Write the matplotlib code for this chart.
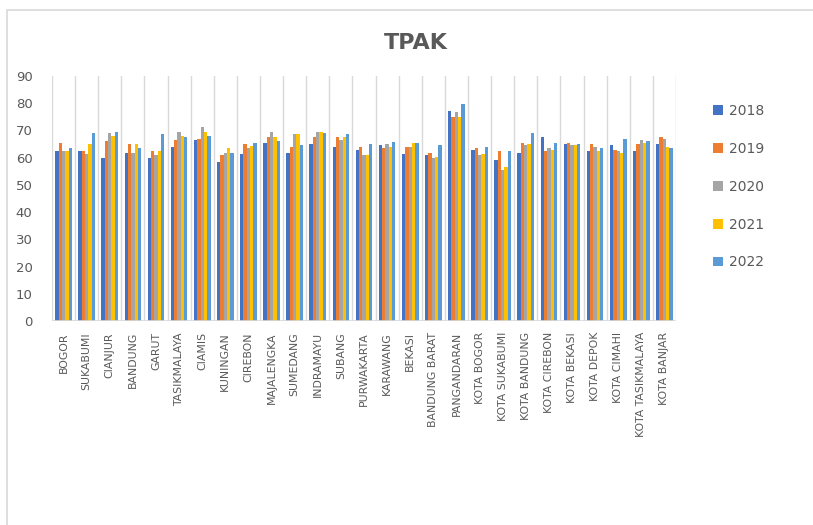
"""TPAK per kabupaten/kota, 2018-2022, drawn as a clustered column chart."""

import matplotlib

matplotlib.use("Agg")
import matplotlib.pyplot as plt
import numpy as np
from matplotlib.patches import Rectangle

REGIONS = [
    "BOGOR", "SUKABUMI", "CIANJUR", "BANDUNG", "GARUT", "TASIKMALAYA",
    "CIAMIS", "KUNINGAN", "CIREBON", "MAJALENGKA", "SUMEDANG", "INDRAMAYU",
    "SUBANG", "PURWAKARTA", "KARAWANG", "BEKASI", "BANDUNG BARAT",
    "PANGANDARAN", "KOTA BOGOR", "KOTA SUKABUMI", "KOTA BANDUNG",
    "KOTA CIREBON", "KOTA BEKASI", "KOTA DEPOK", "KOTA CIMAHI",
    "KOTA TASIKMALAYA", "KOTA BANJAR",
]

YEARS = ["2018", "2019", "2020", "2021", "2022"]

TPAK_2018 = [62.5, 62.5, 59.8, 61.9, 59.8, 64.0, 66.5, 58.3, 61.4, 65.4, 61.9, 65.0,
             64.0, 62.9, 64.5, 61.3, 60.8, 77.3, 62.9, 59.3, 61.9, 67.5, 65.0, 62.4,
             64.5, 62.4, 65.0]
TPAK_2019 = [65.4, 62.5, 66.0, 65.0, 62.5, 66.5, 67.0, 60.8, 65.0, 67.5, 64.0, 67.5,
             67.5, 64.0, 63.5, 64.0, 61.9, 74.8, 63.4, 62.4, 65.4, 62.4, 65.4, 65.0,
             62.9, 65.0, 67.5]
TPAK_2020 = [62.5, 61.3, 69.1, 61.9, 60.8, 69.6, 71.2, 61.9, 63.5, 69.6, 68.6, 69.6,
             66.5, 60.8, 65.0, 64.0, 59.7, 76.8, 60.8, 55.6, 64.5, 63.5, 64.5, 64.0,
             62.4, 66.5, 67.0]
TPAK_2021 = [62.5, 65.0, 68.0, 65.0, 62.5, 68.0, 69.6, 63.5, 64.3, 67.5, 68.6, 69.6,
             67.5, 60.8, 64.0, 65.4, 60.2, 74.8, 61.3, 56.6, 65.0, 62.9, 64.5, 62.4,
             61.8, 65.4, 64.0]
TPAK_2022 = [63.5, 69.1, 69.6, 63.5, 68.6, 67.5, 68.0, 61.9, 65.4, 66.0, 64.5, 69.1,
             68.6, 65.0, 65.6, 65.4, 64.5, 79.9, 64.0, 62.4, 69.1, 65.4, 65.0, 63.5,
             67.0, 66.0, 63.5]

SERIES = [TPAK_2018, TPAK_2019, TPAK_2020, TPAK_2021, TPAK_2022]
COLOURS = ["#4472C4", "#ED7D31", "#A5A5A5", "#FFC000", "#5B9BD5"]
TEXT = "#595959"
GRID = "#D9D9D9"

fig = plt.figure(figsize=(8.13, 5.25), dpi=100)
ax = fig.add_axes([0.064, 0.3886, 0.7675, 0.4666])

# chart area outline
fig.patches.append(
    Rectangle((0.008, -0.05), 1.2, 1.031, transform=fig.transFigure,
              fill=False, edgecolor=GRID, linewidth=1.2, zorder=0)
)

x = np.arange(len(REGIONS))
group = 0.72
width = group / len(SERIES)
for i, (vals, col, yr) in enumerate(zip(SERIES, COLOURS, YEARS)):
    offs = -group / 2 + width * (i + 0.5)
    ax.bar(x + offs, vals, width=width, color=col, label=yr, zorder=2)

ax.set_xlim(-0.5, len(REGIONS) - 0.5)
ax.set_ylim(0, 90)
ax.set_yticks(range(0, 91, 10))

# vertical separators between categories
for b in np.arange(-0.5, len(REGIONS), 1.0):
    ax.axvline(b, color=GRID, linewidth=1.0, zorder=1)
ax.axhline(0, color=GRID, linewidth=1.2, zorder=3)

for s in ax.spines.values():
    s.set_visible(False)

ax.set_xticks(x)
ax.set_xticklabels(REGIONS, rotation=90, fontsize=7.8, color=TEXT,
                   va="top", ha="center")
ax.tick_params(axis="both", length=0)
ax.tick_params(axis="x", pad=8)
ax.tick_params(axis="y", labelsize=9.5, labelcolor=TEXT, pad=14)

fig.text(0.512, 0.918, "TPAK", ha="center", va="center",
         fontsize=16, fontweight="bold", color=TEXT)

leg = fig.legend(loc="upper left", bbox_to_anchor=(0.862, 0.826),
                 frameon=False, fontsize=10, labelcolor=TEXT,
                 handlelength=0.7, handleheight=0.7, handletextpad=0.4,
                 labelspacing=1.72)

fig.savefig("out.png", dpi=100)
